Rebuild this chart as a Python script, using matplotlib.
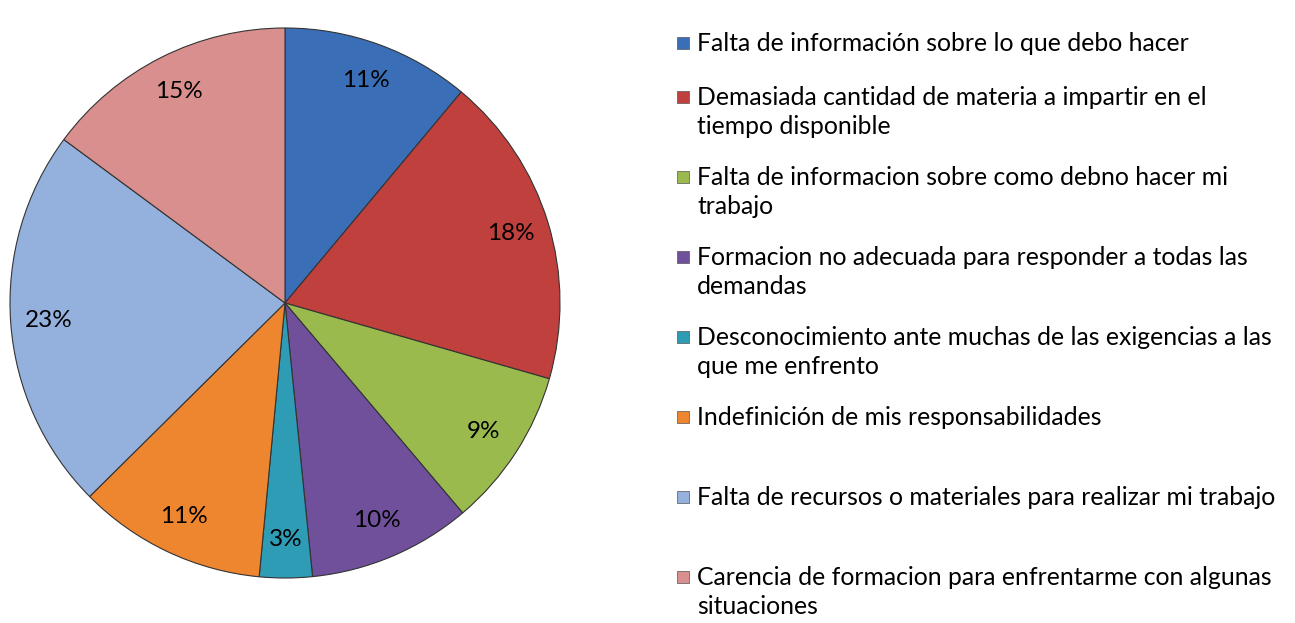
import matplotlib
matplotlib.use("Agg")
import matplotlib.pyplot as plt
from matplotlib.patches import Rectangle

categories = [
    "Falta de información sobre lo que debo hacer",
    "Demasiada cantidad de materia a impartir en el\ntiempo disponible",
    "Falta de informacion sobre como debno hacer mi\ntrabajo",
    "Formacion no adecuada para responder a todas las\ndemandas",
    "Desconocimiento ante muchas de las exigencias a las\nque me enfrento",
    "Indefinición de mis responsabilidades",
    "Falta de recursos o materiales para realizar mi trabajo",
    "Carencia de formacion para enfrentarme con algunas\nsituaciones",
]
values = [11.1, 18.4, 9.4, 9.6, 3.1, 11.1, 22.6, 14.9]
colors = ["#3a6fb7", "#c0403e", "#9aba4e", "#70509a", "#2f9cb6",
          "#ee8630", "#93b1dc", "#d98f8e"]
legend_rows = [43, 97, 177, 257, 337, 417, 497, 577]  # pixel rows of entries

plt.rcParams['font.family'] = ['Lato', 'DejaVu Sans']

fig = plt.figure(figsize=(12.95, 6.23), dpi=100)
ax = fig.add_axes([10/1295, 45/623, 550/1295, 550/623])
wedges, texts, autotexts = ax.pie(
    values, colors=colors, startangle=90, counterclock=False,
    autopct='%.0f%%', pctdistance=0.86,
    wedgeprops=dict(edgecolor='#333333', linewidth=0.8),
    textprops=dict(fontsize=17.5, color='black'))
ax.set_aspect('equal')
ax.set_xlim(-1.0, 1.0)
ax.set_ylim(-1.0, 1.0)

for lab, col, y in zip(categories, colors, legend_rows):
    fig.patches.append(Rectangle((677/1295, 1 - (y + 6)/623), 12/1295, 12/623,
                                 transform=fig.transFigure, facecolor=col,
                                 edgecolor='#555555', linewidth=0.5))
    fig.text(697/1295, 1 - (y - 11)/623, lab, fontsize=17.8, va='top', ha='left',
             linespacing=1.34, color='black')

fig.savefig("out.png", dpi=100)
